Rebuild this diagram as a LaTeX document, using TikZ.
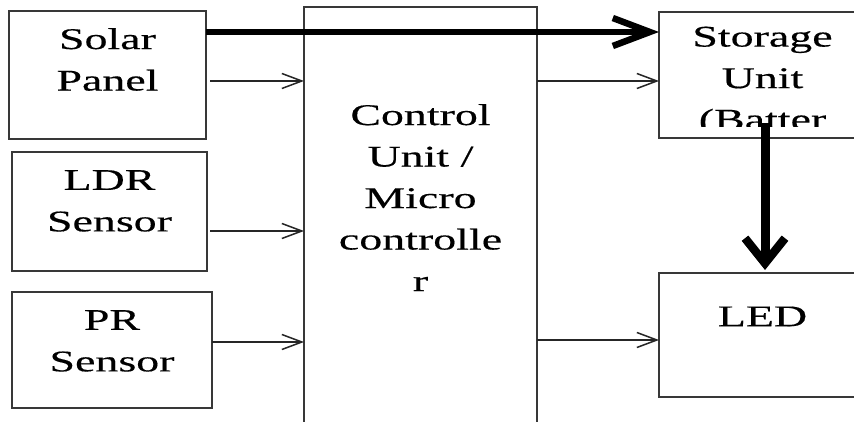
\documentclass[tikz,border=0pt]{standalone}
\usepackage{fontspec}
\newfontfamily\diagfont[FakeStretch=1.53,FakeBold=0.4]{Liberation Serif}
\usetikzlibrary{arrows.meta}
\begin{document}
\begin{tikzpicture}[x=1pt,y=-1pt,
  box/.style={draw=black!78, line width=1.6pt, inner sep=0pt, outer sep=0pt},
  txt/.style={anchor=north, inner sep=0pt, align=center, text=black,
    font=\diagfont\fontsize{30}{41.5}\selectfont,
    execute at begin node={\rule{0pt}{22pt}}},
  thin/.style={draw=black!85, line width=1.5pt,
    -{Straight Barb[length=20pt,width=15pt,line width=1.5pt]}},
  bigh/.style={draw=black, line width=5.5pt,
    -{Straight Barb[length=37pt,width=28pt,line width=6.5pt]}},
  bigv/.style={draw=black, line width=9pt,
    -{Straight Barb[length=25pt,width=40pt,line width=8.5pt]}}]
\useasboundingbox (0,0) rectangle (854,422);
\clip (0,0) rectangle (854,422);
% boxes
\node[box, minimum width=197pt, minimum height=128pt] (solar) at (107.5,75) {};
\node[box, minimum width=195pt, minimum height=119pt] (ldr) at (109.5,211.5) {};
\node[box, minimum width=200pt, minimum height=116pt] (pr) at (112,350) {};
\node[box, minimum width=233pt, minimum height=433pt] (ctrl) at (420.5,223.5) {};
\node[box, minimum width=207pt, minimum height=126pt] (stor) at (762.5,75) {};
\node[box, minimum width=207pt, minimum height=124pt] (led) at (762.5,335) {};
% texts
\node[txt] (solart) at ([yshift=-17pt]solar.north) {Solar\\Panel};
\node[txt] (ldrt) at ([yshift=-18pt]ldr.north) {LDR\\Sensor};
\node[txt] (prt) at ([yshift=-18pt]pr.north) {PR\\Sensor};
\node[txt] (ctrlt) at ([yshift=-97pt]ctrl.north) {Control\\Unit /\\Micro\\controlle\\r};
\begin{scope}
\clip (659,12) rectangle (866,127);
\node[txt] (stort) at ([yshift=-14.5pt]stor.north) {Storage\\Unit\\(Batter};
\end{scope}
\node[txt] (ledt) at ([yshift=-31pt]led.north) {LED};
% connectors
\draw[thin] ([xshift=4pt]solar.east |- 0,81) -- (ctrl.west |- 0,81);
\draw[thin] ([xshift=3pt]ldr.east |- 0,231) -- (ctrl.west |- 0,231);
\draw[thin] (pr.east |- 0,342) -- (ctrl.west |- 0,342);
\draw[thin] (ctrl.east |- 0,81) -- (stor.west |- 0,81);
\draw[thin] (ctrl.east |- 0,340) -- (led.west |- 0,340);
\draw[bigh] ([yshift=-21pt]solar.north east) -- ([yshift=-20pt]stor.north west);
\draw[bigv] ([xshift=2.5pt,yshift=15pt]stor.south) -- ([xshift=2.5pt,yshift=3pt]led.north);
\end{tikzpicture}
\end{document}
